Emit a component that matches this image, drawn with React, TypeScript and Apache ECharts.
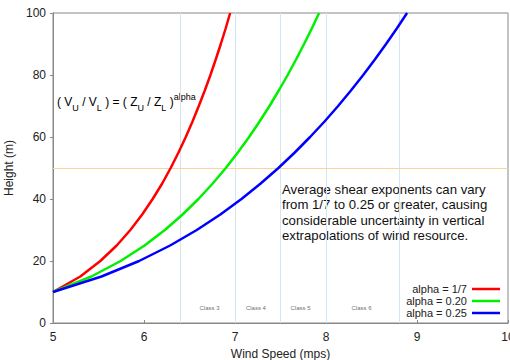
import React, { useEffect, useRef } from "react";
import * as echarts from "echarts";

// Heights (m) at which the wind speed profiles are sampled
const heights = [10, 15, 20, 25, 30, 35, 40, 45, 50, 55, 60, 65, 70, 75, 80, 85, 90, 95, 100];
// Wind speeds (mps) for each shear exponent
const speedAlpha17 = [5.0, 5.3, 5.52, 5.7, 5.85, 5.98, 6.095, 6.2, 6.293, 6.379, 6.459, 6.533, 6.602, 6.668, 6.73, 6.788, 6.844, 6.897, 6.947];
const speedAlpha20 = [5.0, 5.422, 5.743, 6.006, 6.229, 6.424, 6.598, 6.755, 6.899, 7.031, 7.155, 7.27, 7.379, 7.481, 7.579, 7.671, 7.759, 7.844, 7.924];
const speedAlpha25 = [5.0, 5.533, 5.946, 6.287, 6.58, 6.839, 7.071, 7.282, 7.477, 7.657, 7.825, 7.984, 8.133, 8.274, 8.409, 8.537, 8.66, 8.778, 8.891];
const seriesNames = ["alpha = 1/7", "alpha = 0.20", "alpha = 0.25"];
const seriesColors = ["#ff0000", "#00f000", "#0000ff"];

// Wind class boundaries and labels
const classBoundaries = [6.4, 7.0, 7.5, 8.0, 8.8];
const classLabels = ["Class 3", "Class 4", "Class 5", "Class 6"];
const classLabelX = [6.72, 7.23, 7.72, 8.39];
const classLabelY = 5;
const refHeight = 50;

const annotation = [
  "Average shear exponents can vary",
  "from 1/7 to 0.25 or greater, causing",
  "considerable uncertainty in vertical",
  "extrapolations of wind resource.",
];

export default function App() {
  const ref = useRef<HTMLDivElement>(null);
  useEffect(() => {
    if (!ref.current) return;
    const chart = echarts.init(ref.current, undefined, { renderer: "svg" });
    const allSpeeds = [speedAlpha17, speedAlpha20, speedAlpha25];
    const lineSeries: any[] = allSpeeds.map((sp, i) => ({
      name: seriesNames[i],
      type: "line",
      data: sp.map((v, j) => [v, heights[j]]),
      showSymbol: false,
      smooth: false,
      lineStyle: { color: seriesColors[i], width: 2.5 },
      itemStyle: { color: seriesColors[i] },
      z: 5,
    }));
    lineSeries[0].markLine = {
      silent: true,
      symbol: "none",
      label: { show: false },
      animation: false,
      data: [
        ...classBoundaries.map((x) => ({
          xAxis: x,
          lineStyle: { color: "#d3e6f1", width: 1, type: "solid" },
        })),
        { yAxis: refHeight, lineStyle: { color: "#fcd39c", width: 1, type: "solid" } },
      ],
    };
    lineSeries.push({
      name: "classes",
      type: "scatter",
      symbolSize: 0,
      silent: true,
      data: classLabels.map((l, i) => ({ value: [classLabelX[i], classLabelY], name: l })),
      label: {
        show: true,
        position: "inside",
        formatter: (p: any) => p.name,
        fontSize: 6,
        color: "#444",
        fontFamily: "Liberation Sans",
      },
    });

    chart.setOption({
      animation: false,
      backgroundColor: "#ffffff",
      grid: {
        left: 53,
        right: 2,
        top: 13,
        bottom: 37,
        outerBoundsMode: "none",
        containLabel: false,
        show: true,
        borderColor: "#888",
        borderWidth: 1,
      },
      textStyle: { fontFamily: "Liberation Sans" },
      xAxis: {
        type: "value",
        min: 5,
        max: 10,
        interval: 1,
        name: "Wind Speed (mps)",
        nameLocation: "middle",
        nameGap: 25,
        nameTextStyle: { fontSize: 12, color: "#222", fontFamily: "Liberation Sans" },
        axisLine: { show: true, lineStyle: { color: "#888" } },
        axisTick: { show: true, inside: true, length: 3, lineStyle: { color: "#888" } },
        axisLabel: { fontSize: 12, color: "#222", margin: 8, fontFamily: "Liberation Sans" },
        splitLine: { show: false },
      },
      yAxis: {
        type: "value",
        min: 0,
        max: 100,
        interval: 20,
        name: "Height (m)",
        nameLocation: "middle",
        nameGap: 32,
        nameTextStyle: { fontSize: 12, color: "#222", fontFamily: "Liberation Sans" },
        axisLine: { show: true, lineStyle: { color: "#888" } },
        axisTick: { show: true, length: 3, lineStyle: { color: "#888" } },
        axisLabel: { fontSize: 12, color: "#222", margin: 7, fontFamily: "Liberation Sans" },
        splitLine: { show: false },
      },
      legend: {
        data: seriesNames,
        orient: "vertical",
        right: 10,
        top: 283,
        align: "right",
        icon: "rect",
        itemWidth: 28,
        itemHeight: 2.5,
        itemGap: 0,
        padding: 0,
        textStyle: { fontSize: 11, lineHeight: 12, color: "#222", fontFamily: "Liberation Sans" },
      },
      graphic: [
        {
          type: "text",
          left: 57,
          top: 92,
          style: {
            text: "{b|( V}{s|U}{b| / V}{s|L}{b| ) = ( Z}{s|U}{b| / Z}{s|L}{b| )}{p|alpha}",
            rich: {
              b: { fontSize: 12, lineHeight: 20, color: "#222", fontFamily: "Liberation Sans", verticalAlign: "middle" },
              s: { fontSize: 9, lineHeight: 9, color: "#222", fontFamily: "Liberation Sans", verticalAlign: "bottom" },
              p: { fontSize: 9, lineHeight: 9, color: "#222", fontFamily: "Liberation Sans", verticalAlign: "top" },
            },
          },
        },
        {
          type: "text",
          left: 282,
          top: 182,
          style: {
            text: annotation.join("\n"),
            fontSize: 13.2,
            lineHeight: 15.2,
            fill: "#111",
            fontFamily: "Liberation Sans",
          },
        },
      ],
      series: lineSeries,
    });
    return () => chart.dispose();
  }, []);
  return <div ref={ref} style={{ position: "fixed", left: 0, top: 0, width: 510, height: 360 }} />;
}
